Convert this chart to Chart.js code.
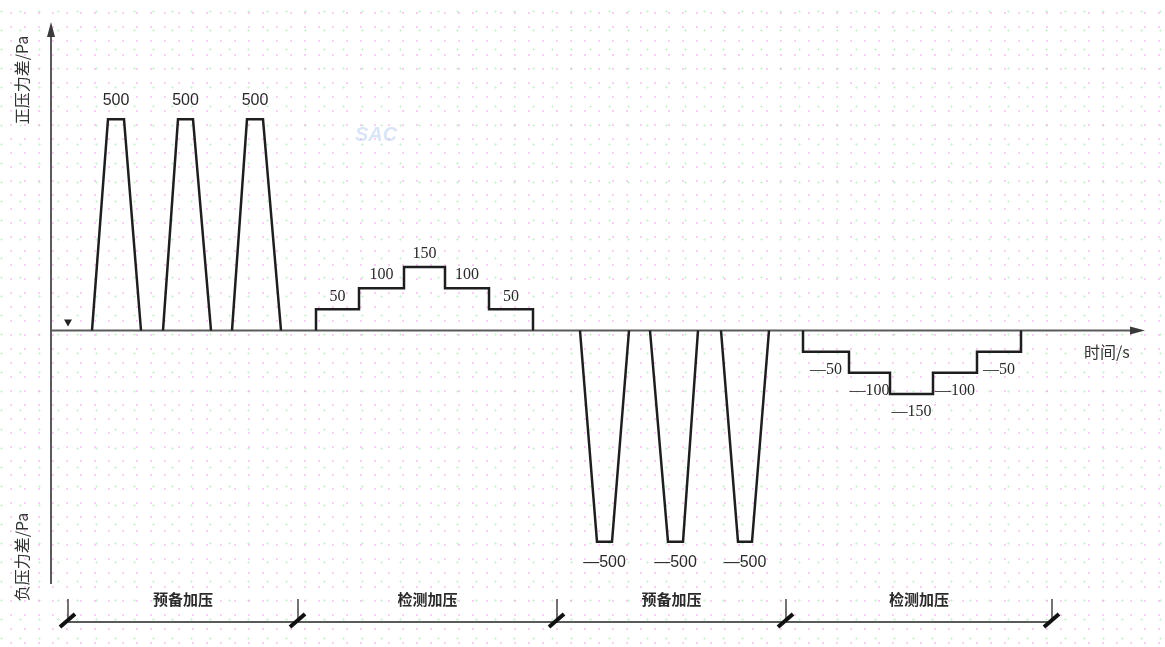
<!DOCTYPE html>
<html>
<head>
<meta charset="utf-8">
<script src="https://cdn.jsdelivr.net/npm/chart.js@4.4.1/dist/chart.umd.min.js"></script>
<style>
    html, body { margin: 0; padding: 0; }
    body {
        width: 1165px; height: 647px; overflow: hidden;
        background-color: #fff;
        background-image:
            radial-gradient(circle, rgba(240, 160, 230, 0.5) 0.9px, transparent 1.3px),
            radial-gradient(circle, rgba(160, 230, 170, 0.5) 0.9px, transparent 1.3px);
        background-size: 14px 14px, 19px 19px;
        background-position: 4px 6px, 11px 2px;
    }
    #wrap { position: relative; width: 1165px; height: 647px; }
</style>
</head>
<body>
<div id="wrap"><canvas id="pressureChart" width="1165" height="647"></canvas></div>
<script>
// --- DATA (time in s, pressure in Pa) ---
const prepUpTime = [4.1, 5.7, 7.3, 9.0, 9.0, 11.2, 12.7, 14.2, 16.0, 16.0, 18.1, 19.6, 21.2, 23.0];
const prepUpPa = [0, 500, 500, 0, null, 0, 500, 500, 0, null, 0, 500, 500, 0];

const testUpTime = [26.5, 26.5, 30.8, 35.3, 39.4, 43.8, 48.2];
const testUpPa = [0, 50, 100, 150, 100, 50, 0];

const prepDownTime = [52.9, 54.6, 56.1, 57.8, 57.8, 59.9, 61.7, 63.2, 64.7, 64.7, 67.0, 68.7, 70.1, 71.8];
const prepDownPa = [0, -500, -500, 0, null, 0, -500, -500, 0, null, 0, -500, -500, 0];

const testDownTime = [75.2, 75.2, 79.8, 83.9, 88.2, 92.6, 97.0];
const testDownPa = [0, -50, -100, -150, -100, -50, 0];

const phaseEdges = [1.7, 24.7, 50.6, 73.5, 100.1];
const phaseNames = ['预备加压', '检测加压', '预备加压', '检测加压'];

const CJK = '"Noto Sans CJK SC", sans-serif';
const INK = '#1e1e1e';

function toPoints(times, values) {
    return times.map((t, i) => ({ x: t, y: values[i] }));
}

function fmt(v) {
    return v < 0 ? '\u2014' + Math.abs(v) : String(v);
}

// --- AXES, TITLES, PHASE BAR ---
const axesPlugin = {
    id: 'axesPlugin',
    beforeDatasetsDraw(chart) {
        const { ctx, chartArea, scales } = chart;
        const x0 = chartArea.left;
        const y0 = scales.y.getPixelForValue(0);
        ctx.save();
        ctx.strokeStyle = '#5a5a5a';
        ctx.fillStyle = '#3a3a3a';
        ctx.lineWidth = 2;

        // vertical axis
        ctx.beginPath();
        ctx.moveTo(x0, chartArea.top + 10);
        ctx.lineTo(x0, scales.y.getPixelForValue(-600));
        ctx.stroke();
        ctx.beginPath();
        ctx.moveTo(x0, chartArea.top);
        ctx.lineTo(x0 - 4, chartArea.top + 15);
        ctx.lineTo(x0 + 4, chartArea.top + 15);
        ctx.closePath();
        ctx.fill();

        // horizontal (time) axis
        ctx.beginPath();
        ctx.moveTo(x0, y0);
        ctx.lineTo(chartArea.right - 10, y0);
        ctx.stroke();
        ctx.beginPath();
        ctx.moveTo(chartArea.right, y0);
        ctx.lineTo(chartArea.right - 15, y0 - 4);
        ctx.lineTo(chartArea.right - 15, y0 + 4);
        ctx.closePath();
        ctx.fill();

        // start marker
        const xs = scales.x.getPixelForValue(phaseEdges[0]);
        ctx.fillStyle = '#222';
        ctx.beginPath();
        ctx.moveTo(xs - 4, y0 - 11);
        ctx.lineTo(xs + 4, y0 - 11);
        ctx.lineTo(xs, y0 - 4);
        ctx.closePath();
        ctx.fill();

        // axis titles
        ctx.fillStyle = '#333';
        ctx.font = '16px ' + CJK;
        ctx.textAlign = 'center';
        ctx.textBaseline = 'middle';
        [['正压力差/Pa', 80], ['负压力差/Pa', 557]].forEach(([txt, cy]) => {
            ctx.save();
            ctx.translate(22, cy);
            ctx.rotate(-Math.PI / 2);
            ctx.fillText(txt, 0, 0);
            ctx.restore();
        });
        ctx.textAlign = 'left';
        ctx.fillText('时间/s', 1084, 352);

        // watermark
        ctx.font = 'italic bold 20px "Liberation Sans", sans-serif';
        ctx.fillStyle = 'rgba(150, 180, 230, 0.35)';
        ctx.textAlign = 'center';
        ctx.fillText('SAC', 376, 135);

        // phase bar
        const barY = chartArea.bottom - 17;
        const xa = scales.x.getPixelForValue(phaseEdges[0]);
        const xb = scales.x.getPixelForValue(phaseEdges[phaseEdges.length - 1]);
        ctx.strokeStyle = '#5a5a5a';
        ctx.lineWidth = 2;
        ctx.beginPath();
        ctx.moveTo(xa, barY);
        ctx.lineTo(xb, barY);
        ctx.stroke();
        phaseEdges.forEach(t => {
            const px = scales.x.getPixelForValue(t);
            ctx.strokeStyle = '#444';
            ctx.lineWidth = 1.5;
            ctx.beginPath();
            ctx.moveTo(px, barY - 23);
            ctx.lineTo(px, barY);
            ctx.stroke();
            ctx.strokeStyle = '#111';
            ctx.lineWidth = 4;
            ctx.beginPath();
            ctx.moveTo(px - 8, barY + 5);
            ctx.lineTo(px + 7, barY - 8);
            ctx.stroke();
        });
        ctx.fillStyle = '#2a2a2a';
        ctx.font = 'bold 15px ' + CJK;
        ctx.textAlign = 'center';
        phaseNames.forEach((name, i) => {
            const mid = (scales.x.getPixelForValue(phaseEdges[i]) + scales.x.getPixelForValue(phaseEdges[i + 1])) / 2;
            ctx.fillText(name, mid, barY - 23);
        });
        ctx.restore();
    }
};

// --- VALUE LABELS on flat segments ---
const valueLabels = {
    id: 'valueLabels',
    afterDatasetsDraw(chart) {
        const { ctx, scales } = chart;
        ctx.save();
        ctx.fillStyle = '#2a2a2a';
        ctx.textAlign = 'center';
        ctx.textBaseline = 'middle';
        chart.data.datasets.forEach(ds => {
            const pts = ds.data;
            ctx.font = ds.labelFont;
            for (let i = 0; i < pts.length - 1; i++) {
                const a = pts[i], b = pts[i + 1];
                if (a.y === null || a.y === 0) continue;
                if (!ds.stepped && b.y !== a.y) continue;
                const mid = (scales.x.getPixelForValue(a.x) + scales.x.getPixelForValue(b.x)) / 2;
                const py = scales.y.getPixelForValue(a.y);
                const off = a.y > 0 ? -ds.labelGap[0] : ds.labelGap[1];
                ctx.fillText(fmt(a.y), mid, py + off);
            }
        });
        ctx.restore();
    }
};

const pulseStyle = {
    borderColor: INK, borderWidth: 2.5, pointRadius: 0, showLine: true,
    spanGaps: false, fill: false, tension: 0,
    labelFont: '16px "Liberation Sans", Arial, sans-serif', labelGap: [19, 21]
};
const stepStyle = {
    borderColor: INK, borderWidth: 2.5, pointRadius: 0, showLine: true,
    stepped: 'before', fill: false,
    labelFont: '16px "Liberation Serif", serif', labelGap: [13, 18]
};

new Chart(document.getElementById('pressureChart'), {
    type: 'scatter',
    data: {
        datasets: [
            { label: '预备加压 正压', data: toPoints(prepUpTime, prepUpPa), ...pulseStyle },
            { label: '检测加压 正压', data: toPoints(testUpTime, testUpPa), ...stepStyle },
            { label: '预备加压 负压', data: toPoints(prepDownTime, prepDownPa), ...pulseStyle },
            { label: '检测加压 负压', data: toPoints(testDownTime, testDownPa), ...stepStyle }
        ]
    },
    options: {
        responsive: false,
        animation: false,
        layout: { padding: { left: 51, right: 20, top: 22, bottom: 8 } },
        plugins: {
            legend: { display: false },
            tooltip: { enabled: false }
        },
        scales: {
            x: { type: 'linear', min: 0, max: 109.4, display: false },
            y: { type: 'linear', min: -730, max: 730, display: false }
        }
    },
    plugins: [axesPlugin, valueLabels]
});
</script>
</body>
</html>
